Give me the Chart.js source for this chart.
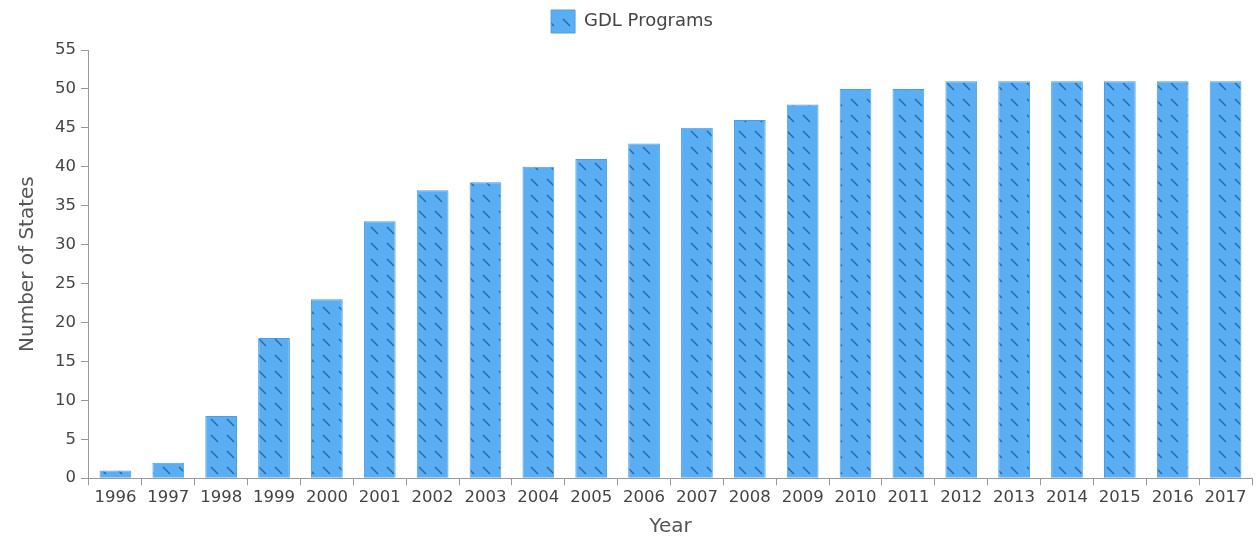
<!DOCTYPE html>
<html>
<head>
<meta charset="utf-8">
<script src="https://cdn.jsdelivr.net/npm/chart.js@4/dist/chart.umd.min.js"></script>
<style>
html, body { margin: 0; padding: 0; background: #fff; }
#wrap { width: 1256px; height: 542px; }
</style>
</head>
<body>
<div id="wrap"><canvas id="gdlChart" width="1256" height="542"></canvas></div>
<script>
var years = ['1996','1997','1998','1999','2000','2001','2002','2003','2004','2005','2006','2007','2008','2009','2010','2011','2012','2013','2014','2015','2016','2017'];
var states = [1, 2, 8, 18, 23, 33, 37, 38, 40, 41, 43, 45, 46, 48, 50, 50, 51, 51, 51, 51, 51, 51];

// hatched fill like the original
function hatch() {
    var c = document.createElement('canvas');
    c.width = 16; c.height = 16;
    var g = c.getContext('2d');
    g.fillStyle = '#5aaef3';
    g.fillRect(0, 0, 16, 16);
    g.strokeStyle = 'rgba(30, 85, 140, 0.8)';
    g.lineWidth = 1.4;
    g.beginPath();
    g.moveTo(3, 3); g.lineTo(10, 10);
    g.stroke();
    return g.createPattern(c, 'repeat');
}

// extra room under the legend
var legendGap = {
    id: 'legendGap',
    beforeInit: function (chart) {
        var fit = chart.legend.fit;
        chart.legend.fit = function () {
            fit.bind(chart.legend)();
            this.height += 7;
        };
    }
};

Chart.defaults.font.family = '"DejaVu Sans", sans-serif';
Chart.defaults.color = '#444';

var gdlChart = new Chart(document.getElementById('gdlChart').getContext('2d'), {
    type: 'bar',
    data: {
        labels: years,
        datasets: [{
            label: 'GDL Programs',
            data: states,
            backgroundColor: hatch(),
            borderColor: '#4b9fe8',
            borderWidth: 1,
            categoryPercentage: 0.6,
            barPercentage: 1
        }]
    },
    options: {
        responsive: false,
        animation: false,
        layout: {
            padding: { left: 12, right: 4, top: 2, bottom: 3 }
        },
        plugins: {
            legend: {
                labels: {
                    boxWidth: 24,
                    boxHeight: 23,
                    padding: 8,
                    font: { size: 18 },
                    color: '#444'
                }
            },
            tooltip: { enabled: false }
        },
        scales: {
            x: {
                grid: { drawOnChartArea: false, tickLength: 7, color: '#999' },
                border: { color: '#999' },
                ticks: { font: { size: 16.5 }, color: '#444', maxRotation: 0, autoSkip: false, padding: 3 },
                title: { display: true, text: 'Year', font: { size: 20 }, color: '#555', padding: { top: 4, bottom: 0 } }
            },
            y: {
                min: 0,
                max: 55,
                grid: { drawOnChartArea: false, tickLength: 8, color: '#999' },
                border: { color: '#999' },
                ticks: { stepSize: 5, font: { size: 16.5 }, color: '#444', padding: 5 },
                title: { display: true, text: 'Number of States', font: { size: 20 }, color: '#555', padding: { bottom: 10 } }
            }
        }
    },
    plugins: [legendGap]
});
</script>
</body>
</html>
